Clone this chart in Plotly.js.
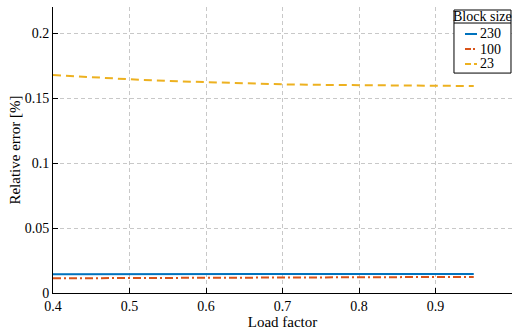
<!DOCTYPE html>
<html><head><meta charset="utf-8">
<script src="https://cdn.plot.ly/plotly-3.0.1.min.js"></script>
<style>html,body{margin:0;padding:0;background:#fff}#chart{width:513px;height:331px}</style>
</head><body><div id="chart"></div>
<script>
const loadFactor = [0.4, 0.45, 0.5, 0.55, 0.6, 0.65, 0.7, 0.75, 0.8, 0.85, 0.9, 0.95];
const err230 = [0.0145, 0.0145, 0.0145, 0.0146, 0.0146, 0.0146, 0.0146, 0.0146, 0.0146, 0.0147, 0.0147, 0.0147];
const err100 = [0.0113, 0.0114, 0.0115, 0.0116, 0.0117, 0.0118, 0.0119, 0.0120, 0.0121, 0.0122, 0.0123, 0.0124];
const err23  = [0.1677, 0.1659, 0.1644, 0.1631, 0.1621, 0.1612, 0.1605, 0.1601, 0.1598, 0.1595, 0.1592, 0.1592];
const seriesNames = ['230', '100', '23'];
const legendTitle = 'Block size';
const xTicks = [0.4, 0.5, 0.6, 0.7, 0.8, 0.9];
const yTicks = [0, 0.05, 0.1, 0.15, 0.2];
const yTickText = ['0', '0.05', '0.1', '0.15', '0.2'];

const FAM = 'Liberation Serif';
const tickFont = {family: FAM, size: 14, color: '#000'};
const titleFont = {family: FAM, size: 15, color: '#000'};
const legFont = {family: FAM, size: 14, color: '#000'};
const colors = ['#0072BD', '#D95319', '#EDB120'];
const dashes = ['solid', '8px,3px,2px,3px', '8px,5px'];
const legDashes = ['solid', '6px,2px,2px,2px', '6px,3px'];
const series = [err230, err100, err23];

const traces = series.map((ys, i) => ({
  x: loadFactor, y: ys, name: seriesNames[i], mode: 'lines', showlegend: false,
  line: {color: colors[i], width: 2, dash: dashes[i]}
}));

// legend box drawn in paper coordinates (a decoration, not data)
const L = {x0: 0.8736, x1: 0.9978, y0: 0.769, y1: 0.9895, sep: 0.944, titleY: 0.966,
  rowY: [0.9056, 0.853, 0.8007], s0: 0.8976, s1: 0.9237, tx: 0.926};
const shapes = [
  {type: 'rect', xref: 'paper', yref: 'paper', x0: L.x0, x1: L.x1, y0: L.y0, y1: L.y1,
    line: {color: '#000', width: 1}, fillcolor: '#fff', layer: 'above'},
  {type: 'line', xref: 'paper', yref: 'paper', x0: L.x0, x1: L.x1, y0: L.sep, y1: L.sep,
    line: {color: '#000', width: 1}, layer: 'above'}
];
const annotations = [
  {xref: 'paper', yref: 'paper', x: (L.x0 + L.x1) / 2, y: L.titleY, xanchor: 'center', yanchor: 'middle',
    showarrow: false, text: legendTitle, font: legFont}
];
seriesNames.forEach((n, i) => {
  shapes.push({type: 'line', xref: 'paper', yref: 'paper', x0: L.s0, x1: L.s1, y0: L.rowY[i], y1: L.rowY[i],
    line: {color: colors[i], width: 2, dash: legDashes[i]}, layer: 'above'});
  annotations.push({xref: 'paper', yref: 'paper', x: L.tx, y: L.rowY[i], xanchor: 'left', yanchor: 'middle',
    showarrow: false, text: n, font: legFont});
});

const layout = {
  width: 513, height: 331,
  margin: {l: 53, r: 1, t: 7, b: 38},
  paper_bgcolor: '#fff', plot_bgcolor: '#fff',
  font: tickFont,
  showlegend: false,
  shapes: shapes, annotations: annotations,
  xaxis: {range: [0.4, 1.0], tickvals: xTicks, ticktext: xTicks.map(v => v.toFixed(1)), tickfont: tickFont,
    showline: true, linecolor: '#000', linewidth: 1, ticks: 'inside', ticklen: 5, tickcolor: '#000',
    showgrid: true, gridcolor: '#c8c8c8', griddash: '4px,3px', gridwidth: 1, zeroline: false,
    title: {text: 'Load factor', font: titleFont, standoff: 0}},
  yaxis: {range: [0, 0.22], tickvals: yTicks, ticktext: yTickText, tickfont: tickFont,
    showline: true, linecolor: '#000', linewidth: 1, ticks: 'inside', ticklen: 5, tickcolor: '#000',
    showgrid: true, gridcolor: '#c8c8c8', griddash: '4px,3px', gridwidth: 1, zeroline: false,
    title: {text: 'Relative error [%]', font: titleFont, standoff: 0}}
};
Plotly.newPlot('chart', traces, layout, {displayModeBar: false, staticPlot: true});
</script></body></html>
